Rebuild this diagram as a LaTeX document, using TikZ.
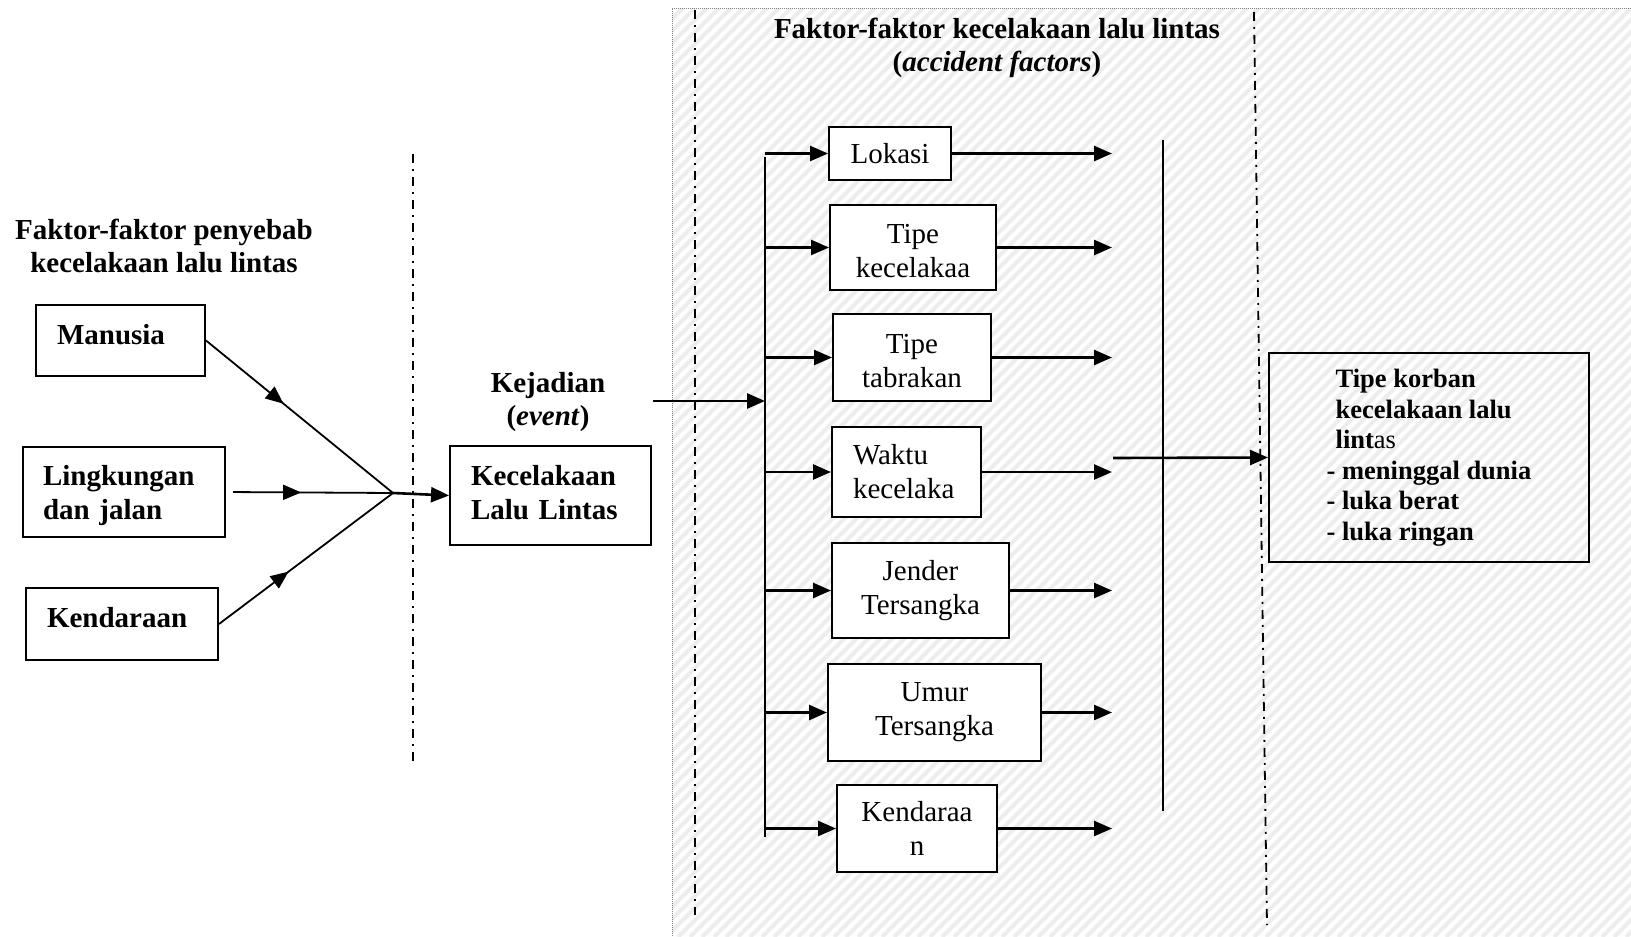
\documentclass[tikz,border=0pt]{standalone}
\usepackage{fontspec}
\setmainfont{Liberation Serif}
\usepackage{tikz}
\usetikzlibrary{calc,positioning,arrows.meta,decorations.markings}

\newcommand{\naik}[1]{\rule[-#1]{0pt}{#1}}
\newcommand{\turun}[1]{\rule{0pt}{#1}}

\begin{document}
\begin{tikzpicture}[x=1pt,y=-1pt, font=\fontsize{29}{34}\selectfont,
 box/.style={draw, line width=2pt, fill=white, inner sep=0pt, align=center},
 kiri/.style={align=left, text width=#1},
 tebal/.style={font=\fontsize{29}{34}\selectfont\bfseries},
 ttl/.style={font=\fontsize{29}{33}\selectfont\bfseries, align=center, inner sep=0pt},
 arr/.style={line width=2.6pt, -{Triangle[length=18pt,width=15pt]}},
 sep/.style={line width=1.8pt, dash pattern=on 9pt off 6pt on 2pt off 6pt},
 mid/.style={line width=1.8pt, postaction={decorate}, decoration={markings,
   mark=at position #1 with {\arrow{Triangle[length=18pt,width=15pt]}}}}]
\useasboundingbox (0,0) rectangle (1631,937);

% hatched part
\begin{scope}
\clip (672,8) rectangle (1631,937);
\foreach \k in {-270,-258,...,1640} \draw[gray!14, line width=4pt] (\k,937) -- ++(929,-929);
\end{scope}
\draw[gray, densely dotted, line width=1pt] (1631,8) -- (672,8) -- (672,937);

\draw[sep] (413,154) -- (413,762);
\draw[sep] (695,10) -- (695,915);
\draw[sep] (1254,12) -- (1267,925);

\node[ttl] (jdl1) at (164,246) {Faktor-faktor penyebab\\kecelakaan lalu lintas};
\node[ttl] (jdl2) at (997,48) {Faktor-faktor kecelakaan lalu lintas\\(\textit{accident factors})};
\node[ttl] (jdl3) at (548,402) {Kejadian\\(\textit{event})};

% penyebab
\node[box, tebal, kiri=127, minimum width=169, minimum height=71] (manusia) at (120.5,340.5) {Manusia\naik{12pt}};
\node[box, tebal, kiri=162, minimum width=202, minimum height=90] (lingkungan) at (124,492) {\turun{28pt}Lingkungan\\dan jalan};
\node[box, tebal, kiri=150, minimum width=192, minimum height=72] (kendaraan) at (122,624) {Kendaraan\naik{14pt}};
\node[box, tebal, kiri=159, minimum width=201, minimum height=99] (kecelakaan) at (550.5,495.5) {Kecelakaan\\Lalu Lintas\naik{6pt}};

\coordinate (konv) at (393,493);
\draw[mid=0.415] (manusia.east) -- (konv);
\draw[mid=0.45, shorten <=7pt] (lingkungan.east) -- (konv);
\draw[mid=0.4] (kendaraan.east) -- (konv);
\draw[arr] (konv) -- (kecelakaan.west);

% faktor
\node[box, minimum width=122, minimum height=53] (lokasi) at (890,153.5) {Lokasi};
\node[box, minimum width=166, minimum height=85] (tipek) at (913,247.5) {\turun{27pt}Tipe\\kecelakaa};
\node[box, minimum width=158, minimum height=87] (tipet) at (912,357.5) {\turun{26pt}Tipe\\tabrakan};
\node[box, kiri=107, minimum width=149, minimum height=90] (waktu) at (906.5,472) {Waktu\\kecelaka};
\node[box, minimum width=177, minimum height=95] (jender) at (920.5,590.5) {Jender\\Tersangka};
\node[box, minimum width=213, minimum height=97] (umur) at (934.5,712.5) {Umur\\Tersangka};
\node[box, minimum width=160, minimum height=87] (kendaraan2) at (917,828.5) {Kendaraa\\n};

\coordinate (kj) at (653,401);
\coordinate (bus) at (765,401);
\coordinate (out) at (1112,0);
\draw[line width=2pt] (765,157) -- (765,837);
\draw[arr] (kj) -- (bus);
\foreach \n in {lokasi,tipek,tipet,waktu,jender,umur,kendaraan2}{
 \draw[arr] (\n.west -| bus) -- (\n.west);
 \draw[arr] (\n.east) -- (\n.east -| out);}

% korban
\draw[line width=1.6pt] (1163,140) -- (1163,811);
\node[draw, line width=2pt, inner sep=0pt, align=left, minimum width=320, minimum height=209,
 font=\fontsize{26.5}{30.5}\selectfont\bfseries] (korban) at (1429,457.5)
 {\hspace*{9pt}Tipe korban\\\hspace*{9pt}kecelakaan lalu\\\hspace*{9pt}lint{\mdseries as}\\- meninggal dunia\\- luka berat\\- luka ringan};
\coordinate (kin) at (1113,458);
\draw[arr] (kin) -- (korban.west);
\end{tikzpicture}
\end{document}
